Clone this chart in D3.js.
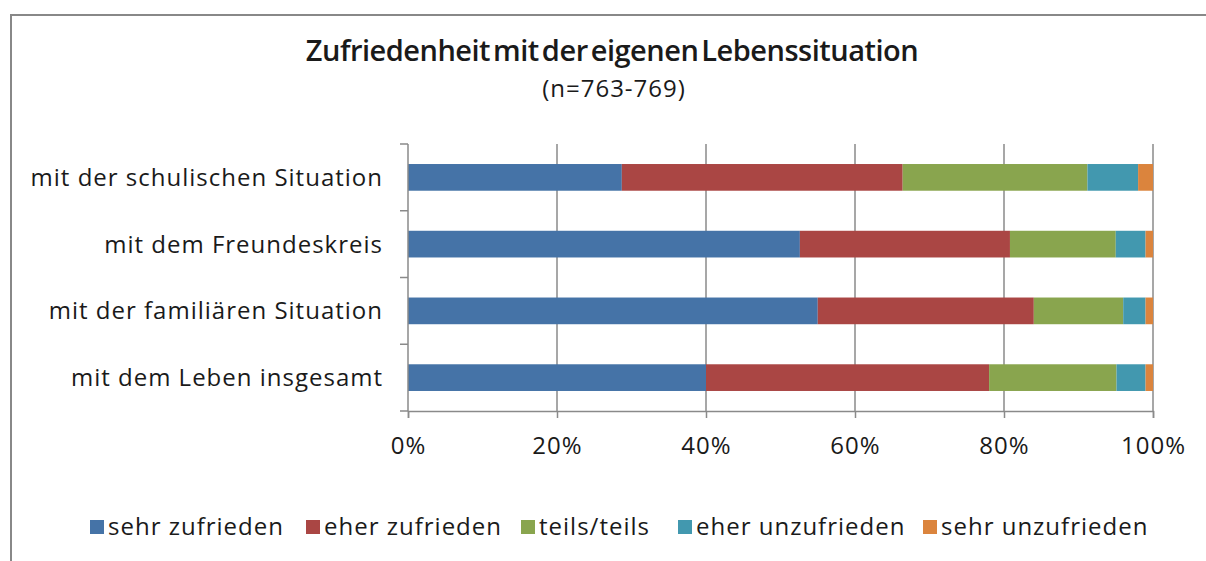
<!DOCTYPE html>
<html>
<head>
<meta charset="utf-8">
<script src="https://cdn.jsdelivr.net/npm/d3@7"></script>
<style>
  html, body { margin: 0; padding: 0; background: #fff; }
  svg text { font-family: "Open Sans", sans-serif; fill: #1a1a1a; }
</style>
</head>
<body>
<div id="chart"></div>
<script>
const categories = [
  'mit der schulischen Situation',
  'mit dem Freundeskreis',
  'mit der familiären Situation',
  'mit dem Leben insgesamt',
];

const seriesNames = ['sehr zufrieden', 'eher zufrieden', 'teils/teils', 'eher unzufrieden', 'sehr unzufrieden'];
const seriesColors = ['#4573a7', '#aa4644', '#89a54e', '#4298af', '#db843d'];

// percent values per category, same order as seriesNames
const sehrZufrieden = [28.7, 52.6, 55.0, 40.0];
const eherZufrieden = [37.7, 28.2, 29.0, 38.0];
const teilsTeils = [24.8, 14.2, 12.0, 17.1];
const eherUnzufrieden = [6.8, 4.0, 3.0, 3.9];
const sehrUnzufrieden = [2.0, 1.0, 1.0, 1.0];

const tickValues = [0, 20, 40, 60, 80, 100];

const width = 1206;
const height = 561;
const margin = { top: 144, left: 408, right: 53, bottom: 150 };

const svg = d3
  .select('#chart')
  .append('svg')
  .attr('width', width)
  .attr('height', height);

// outer frame (top and left edges visible)
svg.append('path')
  .attr('d', `M11,${height} L11,15 L${width},15`)
  .attr('fill', 'none')
  .attr('stroke', '#888')
  .attr('stroke-width', 2);

svg.append('text')
  .attr('x', 612)
  .attr('y', 61)
  .attr('text-anchor', 'middle')
  .style('font-size', '29px')
  .style('font-weight', 600)
  .style('letter-spacing', '-0.5px')
  .style('word-spacing', '-4px')
  .text('Zufriedenheit mit der eigenen Lebenssituation');

svg.append('text')
  .attr('x', 614)
  .attr('y', 97)
  .attr('text-anchor', 'middle')
  .style('font-size', '24px')
  .style('letter-spacing', '1px')
  .text('(n=763-769)');

const rows = categories.map((c, i) => ({
  name: c,
  'sehr zufrieden': sehrZufrieden[i],
  'eher zufrieden': eherZufrieden[i],
  'teils/teils': teilsTeils[i],
  'eher unzufrieden': eherUnzufrieden[i],
  'sehr unzufrieden': sehrUnzufrieden[i],
}));

const stacked = d3.stack().keys(seriesNames)(rows);

const x = d3.scaleLinear()
  .domain([0, 100])
  .range([margin.left, width - margin.right]);

const y = d3.scaleBand()
  .domain(categories)
  .range([margin.top, height - margin.bottom])
  .paddingInner(0.6)
  .paddingOuter(0.3);

const color = d3.scaleOrdinal().domain(seriesNames).range(seriesColors);

// vertical grid lines
svg.append('g')
  .selectAll('line')
  .data(tickValues.slice(1))
  .enter()
  .append('line')
  .attr('x1', (d) => x(d))
  .attr('x2', (d) => x(d))
  .attr('y1', margin.top)
  .attr('y2', height - margin.bottom)
  .attr('stroke', '#8a8a8a')
  .attr('stroke-width', 1.5);

// bars
svg.append('g')
  .selectAll('g')
  .data(stacked)
  .enter()
  .append('g')
  .attr('fill', (d) => color(d.key))
  .selectAll('rect')
  .data((d) => d)
  .enter()
  .append('rect')
  .attr('x', (d) => x(d[0]))
  .attr('width', (d) => x(d[1]) - x(d[0]))
  .attr('y', (d) => y(d.data.name))
  .attr('height', y.bandwidth());

// x axis
const xAxis = svg.append('g')
  .attr('transform', `translate(0,${height - margin.bottom})`)
  .call(d3.axisBottom(x).tickValues(tickValues).tickFormat((d) => d + '%').tickSize(7).tickPadding(19));

xAxis.select('.domain').attr('stroke', '#8a8a8a').attr('stroke-width', 1.5);
xAxis.selectAll('.tick line').attr('stroke', '#8a8a8a').attr('stroke-width', 1.5);
xAxis.selectAll('.tick text')
  .style('font-family', '"Open Sans", sans-serif')
  .style('font-size', '24px')
  .style('letter-spacing', '1px')
  .attr('fill', '#1a1a1a');

// y axis: ticks at category boundaries
const boundaries = d3.range(categories.length + 1).map(
  (i) => margin.top + (i * (height - margin.bottom - margin.top)) / categories.length
);

svg.append('line')
  .attr('x1', margin.left)
  .attr('x2', margin.left)
  .attr('y1', margin.top)
  .attr('y2', height - margin.bottom)
  .attr('stroke', '#8a8a8a')
  .attr('stroke-width', 1.5);

svg.append('g')
  .selectAll('line')
  .data(boundaries)
  .enter()
  .append('line')
  .attr('x1', margin.left - 8)
  .attr('x2', margin.left)
  .attr('y1', (d) => d)
  .attr('y2', (d) => d)
  .attr('stroke', '#8a8a8a')
  .attr('stroke-width', 1.5);

svg.append('g')
  .selectAll('text')
  .data(categories)
  .enter()
  .append('text')
  .attr('x', 383)
  .attr('y', (d) => y(d) + y.bandwidth() / 2)
  .attr('dy', '0.35em')
  .attr('text-anchor', 'end')
  .style('font-size', '24px')
  .style('letter-spacing', '1px')
  .text((d) => d);

// legend
const legendX = [90, 306, 521, 678, 923];
const legend = svg.append('g')
  .selectAll('g')
  .data(seriesNames)
  .enter()
  .append('g')
  .attr('transform', (d, i) => `translate(${legendX[i]},527)`);

legend.append('rect')
  .attr('x', 0)
  .attr('y', -7)
  .attr('width', 14)
  .attr('height', 14)
  .attr('fill', (d) => color(d));

legend.append('text')
  .attr('x', 18)
  .attr('y', 0)
  .attr('dy', '0.35em')
  .style('font-size', '24px')
  .style('letter-spacing', '1px')
  .text((d) => d);
</script>
</body>
</html>
